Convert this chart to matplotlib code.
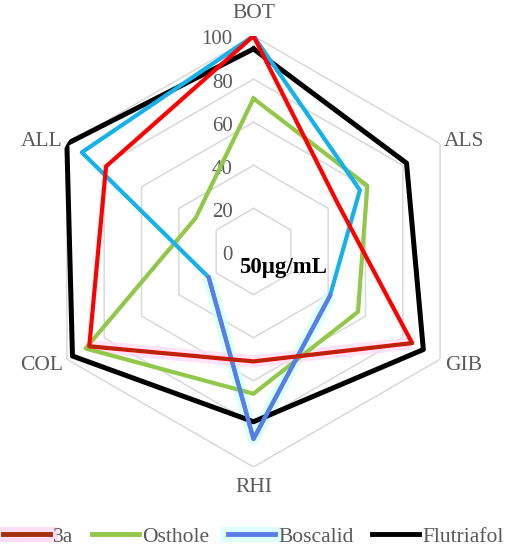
import numpy as np
import matplotlib.pyplot as plt
import matplotlib.patheffects as pe
from matplotlib.lines import Line2D

plt.rcParams['font.family'] = ['Liberation Serif', 'DejaVu Serif']

categories = ['BOT', 'ALS', 'GIB', 'RHI', 'COL', 'ALL']
levels = [0, 20, 40, 60, 80, 100]
series_names = ['3a', 'Osthole', 'Boscalid', 'Flutriafol']

vals_3a = [100, 45, 85, 51, 88, 79]
vals_osthole = [71, 61, 56, 66, 90, 31]
vals_boscalid = [100, 57, 41, 87, 24, 92]
vals_flutriafol = [94, 82, 91, 79, 97, 100]

# label offsets in pixels from the 100 vertex of each axis
label_offsets = [(0, 22), (24, 2), (23, -6), (0, -21), (-25, -6), (-25, 2)]

grey_txt = '#595959'
grid_col = '#D9D9D9'


def closed(a):
    return np.concatenate([a, a[:1]])


def main():
    n = len(categories)
    angles = np.arange(n) * 2 * np.pi / n

    fig = plt.figure(figsize=(5.15, 5.5), dpi=100)
    ax = fig.add_axes([38 / 515, 83 / 550, 431 / 515, 431 / 550], projection='polar')
    ax.set_theta_offset(np.pi / 2)
    ax.set_theta_direction(-1)
    ax.set_ylim(0, 100)
    ax.set_axis_off()

    # hexagonal grid
    for lv in levels[1:]:
        ax.plot(closed(angles), [lv] * (n + 1), color=grid_col, lw=1.1, zorder=0)

    # tick labels along the BOT axis
    for lv in levels:
        ax.annotate(str(lv), xy=(0, lv), xytext=(-21, -4), textcoords='offset pixels',
                    ha='right', va='center', fontsize=15, color=grey_txt)

    # category labels
    for i, cat in enumerate(categories):
        ax.annotate(cat, xy=(angles[i], 100), xytext=label_offsets[i], textcoords='offset pixels',
                    ha='center', va='center', fontsize=15.5, color=grey_txt)

    lower = [2, 3, 4]

    # Flutriafol
    ax.plot(closed(angles), closed(np.array(vals_flutriafol)), color='black', lw=3.6, zorder=3)
    # Osthole
    ax.plot(closed(angles), closed(np.array(vals_osthole)), color='#92C84A', lw=3.0, zorder=4)
    # Boscalid
    b = np.array(vals_boscalid)
    ax.plot(angles[lower], b[lower], color='#D6FFFF', lw=9, alpha=0.8, zorder=1,
            solid_capstyle='butt')
    ax.plot(closed(angles), closed(b), color='#14B1EC', lw=3.0, zorder=5)
    ax.plot(angles[lower], b[lower], color='#5B7CE8', lw=3.0, zorder=5)
    # 3a
    r = np.array(vals_3a)
    ax.plot(angles[lower], r[lower], color='#FFDDF4', lw=9, alpha=0.8, zorder=1,
            solid_capstyle='butt')
    ax.plot(closed(angles), closed(r), color='#FF0000', lw=3.0, zorder=6)
    ax.plot(angles[lower], r[lower], color='#B02A0A', lw=2.0, zorder=6)

    fig.text(283.5 / 515, 1 - 267 / 550, '50μg/mL', ha='center', va='center',
             fontsize=16.5, fontweight='bold', color='black')

    handles = [
        Line2D([], [], color='#A3300C', lw=3.5,
               path_effects=[pe.Stroke(linewidth=11, foreground='#FFDDF4'), pe.Normal()]),
        Line2D([], [], color='#92C84A', lw=3.5),
        Line2D([], [], color='#5B7CE8', lw=3.5,
               path_effects=[pe.Stroke(linewidth=11, foreground='#DDFFFF'), pe.Normal()]),
        Line2D([], [], color='black', lw=3.5),
    ]
    leg = fig.legend(handles, series_names, loc='center', bbox_to_anchor=(0.492, 0.024),
                     ncol=4, frameon=False, fontsize=15.5, handlelength=2.2,
                     handletextpad=0.15, columnspacing=0.85, borderaxespad=0)
    for t in leg.get_texts():
        t.set_color(grey_txt)

    fig.savefig('out.png', dpi=100)


if __name__ == '__main__':
    main()
